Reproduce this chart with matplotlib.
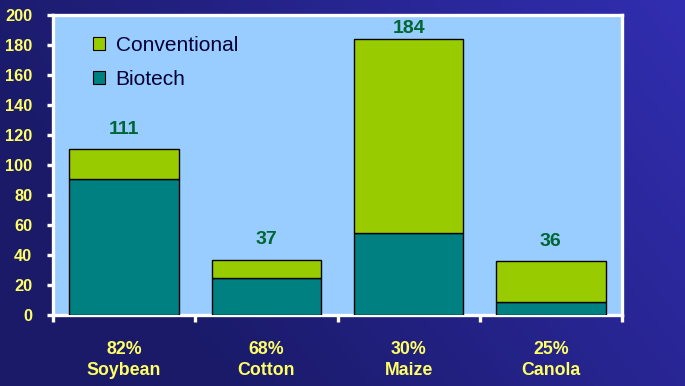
import numpy as np
import matplotlib.pyplot as plt
from matplotlib.patches import Patch

# データ
crops = ["Soybean", "Cotton", "Maize", "Canola"]
shares = ["82%", "68%", "30%", "25%"]
totals = [111, 37, 184, 36]
biotech = [91, 25, 55, 9]
conventional = [t - b for t, b in zip(totals, biotech)]

yellow = "#FFFF66"
c_conv = "#99CC00"
c_bio = "#008080"

plt.rcParams['font.family'] = ['Liberation Sans', 'DejaVu Sans']

fig = plt.figure(figsize=(6.85, 3.86), dpi=100)

# 背景グラデーション
bg = fig.add_axes([0, 0, 1, 1])
gx = np.linspace(0, 1, 300)
gy = np.linspace(0, 1, 200)
X, Y = np.meshgrid(gx, gy)
t = np.clip(X * 0.8 + (1 - Y) * 0.35 - 0.25, 0, 1)
dark = np.array([26, 26, 104]) / 255
light = np.array([52, 48, 185]) / 255
img = dark[None, None, :] * (1 - t[..., None]) + light[None, None, :] * t[..., None]
bg.imshow(img, aspect='auto', extent=[0, 1, 0, 1], origin='upper')
bg.set_axis_off()

ax = fig.add_axes([53 / 685, 1 - 315 / 386, 569 / 685, 300 / 386])
ax.set_facecolor("#99CCFF")

x = np.arange(len(crops))
ax.bar(x, biotech, width=0.77, color=c_bio, edgecolor="black", linewidth=1, zorder=3)
ax.bar(x, conventional, width=0.77, bottom=biotech, color=c_conv,
       edgecolor="black", linewidth=1, zorder=3)

for xi, tot in zip(x, totals):
    ax.text(xi, min(tot + 13, 191), str(tot), ha='center', va='center',
            color="#006633", fontsize=14, fontweight='bold')

ax.set_xlim(-0.5, 3.5)
ax.set_ylim(0, 200)
ax.set_yticks(range(0, 201, 20))

for s in ax.spines.values():
    s.set_color("white")
    s.set_linewidth(2.4)

ax.tick_params(axis='y', colors="white", labelcolor=yellow, length=4, width=2.4,
               pad=11, labelsize=11.8)
for lab in ax.get_yticklabels():
    lab.set_fontweight('bold')

ax.set_xticks(x)
ax.set_xticklabels([f"{s}\n{c}" for s, c in zip(shares, crops)],
                   fontsize=12.8, fontweight='bold', color=yellow, linespacing=1.25)
ax.tick_params(axis='x', which='major', length=0, pad=19)
ax.set_xticks(np.arange(-0.5, 4, 1), minor=True)
ax.tick_params(axis='x', which='minor', colors="white", length=5, width=2.4)

handles = [Patch(facecolor=c_conv, edgecolor="black", linewidth=0.8),
           Patch(facecolor=c_bio, edgecolor="black", linewidth=0.8)]
ax.legend(handles, ["Conventional", "Biotech"], loc='upper left',
          bbox_to_anchor=(40 / 569, 1 - 21 / 300), frameon=False, fontsize=15,
          handlelength=0.58, handleheight=0.58, handletextpad=0.5,
          labelspacing=0.7, borderpad=0, borderaxespad=0,
          labelcolor="#000033")

fig.savefig("out.png", dpi=100)
